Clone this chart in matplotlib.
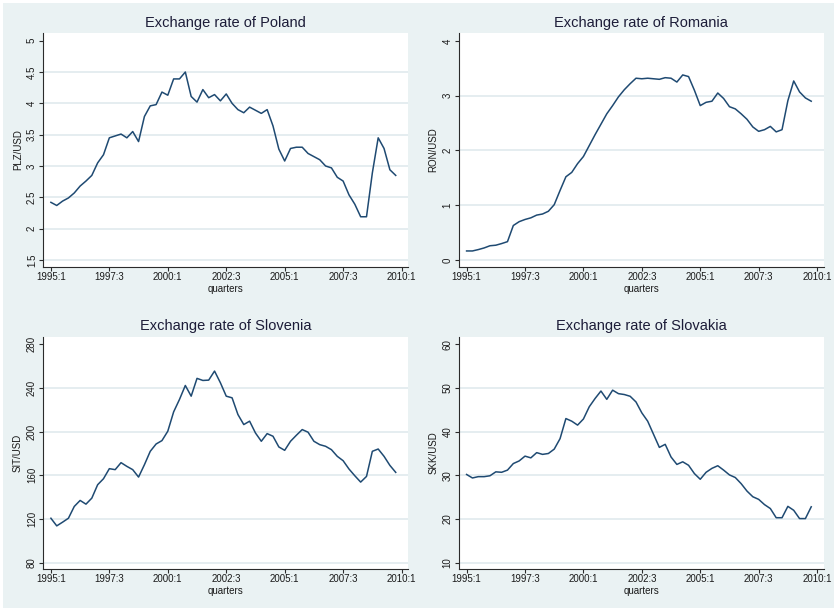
import matplotlib
matplotlib.use("Agg")
import matplotlib.pyplot as plt
from matplotlib.patches import Rectangle

plt.rcParams['font.family'] = ['Liberation Sans', 'DejaVu Sans']

# ---------------- data (quarterly, 1995:1 .. 2009:4) ----------------
quarter_index = list(range(60))
xtick_pos = [0, 10, 20, 30, 40, 50, 60]
xtick_labels = ["1995:1", "1997:3", "2000:1", "2002:3", "2005:1", "2007:3", "2010:1"]

poland = [2.42, 2.37, 2.44, 2.49, 2.57, 2.68, 2.76, 2.85, 3.05, 3.18,
          3.45, 3.48, 3.51, 3.45, 3.55, 3.39, 3.79, 3.96, 3.98, 4.18,
          4.13, 4.39, 4.39, 4.50, 4.11, 4.02, 4.22, 4.09, 4.14, 4.04,
          4.15, 4.00, 3.90, 3.85, 3.94, 3.89, 3.84, 3.90, 3.64, 3.27,
          3.08, 3.28, 3.30, 3.30, 3.20, 3.15, 3.10, 3.00, 2.97, 2.82,
          2.76, 2.54, 2.39, 2.19, 2.19, 2.89, 3.45, 3.28, 2.94, 2.85]

romania = [0.165, 0.165, 0.19, 0.22, 0.26, 0.27, 0.30, 0.335, 0.63, 0.70,
           0.74, 0.77, 0.82, 0.84, 0.89, 1.01, 1.27, 1.52, 1.60, 1.76,
           1.89, 2.09, 2.29, 2.48, 2.67, 2.82, 2.98, 3.11, 3.22, 3.32,
           3.31, 3.32, 3.31, 3.30, 3.33, 3.32, 3.25, 3.38, 3.35, 3.10,
           2.82, 2.88, 2.90, 3.05, 2.95, 2.80, 2.76, 2.67, 2.57, 2.43,
           2.35, 2.38, 2.44, 2.34, 2.38, 2.91, 3.27, 3.07, 2.96, 2.90]

slovenia = [120.7, 113.7, 117.1, 120.7, 131.5, 137.0, 133.6, 139.1, 151.4, 156.9,
            166.1, 165.2, 171.6, 168.2, 165.2, 158.4, 169.7, 182.0, 188.7, 191.8,
            200.4, 218.1, 229.5, 242.3, 232.5, 248.8, 246.9, 247.2, 255.5, 244.8,
            232.5, 231.0, 215.7, 206.5, 209.6, 198.8, 191.2, 198.2, 195.8, 186.0,
            182.9, 191.2, 196.7, 201.9, 199.5, 191.2, 188.1, 186.6, 183.5, 177.4,
            173.4, 165.8, 159.6, 153.8, 159.0, 182.0, 184.1, 177.4, 169.1, 162.7]

slovakia = [30.2, 29.4, 29.7, 29.7, 29.9, 30.8, 30.7, 31.2, 32.7, 33.3,
            34.4, 34.0, 35.2, 34.8, 35.0, 36.0, 38.4, 43.0, 42.4, 41.5,
            42.9, 45.7, 47.6, 49.3, 47.4, 49.5, 48.7, 48.5, 48.1, 46.8,
            44.3, 42.4, 39.4, 36.4, 37.1, 34.2, 32.5, 33.1, 32.3, 30.4,
            29.1, 30.7, 31.6, 32.2, 31.2, 30.1, 29.5, 28.1, 26.4, 25.1,
            24.5, 23.3, 22.4, 20.3, 20.3, 22.9, 22.0, 20.1, 20.1, 22.8]

titles = ["Exchange rate of Poland", "Exchange rate of Romania",
          "Exchange rate of Slovenia", "Exchange rate of Slovakia"]
ylabels = ["PLZ/USD", "RON/USD", "SIT/USD", "SKK/USD"]

poland_yticks = [1.5, 2, 2.5, 3, 3.5, 4, 4.5, 5]
poland_yticklabels = ["1.5", "2", "2.5", "3", "3.5", "4", "4.5", "5"]
romania_yticks = [0, 1, 2, 3, 4]
romania_yticklabels = ["0", "1", "2", "3", "4"]
slovenia_yticks = [80, 120, 160, 200, 240, 280]
slovenia_yticklabels = ["80", "120", "160", "200", "240", "280"]
slovakia_yticks = [10, 20, 30, 40, 50, 60]
slovakia_yticklabels = ["10", "20", "30", "40", "50", "60"]

# ---------------- styling ----------------
W, H = 834, 608
BG = "#EAF2F3"
GRID = "#E0EAED"
LINE = "#1F4A72"
AX = "#2b2b2b"
TXT = "#1a1a1a"

fig = plt.figure(figsize=(W / 100, H / 100), dpi=100, facecolor=BG)
# thin white frame at top/left as in the reference
fig.patches.append(Rectangle((0, 1 - 3 / H), 1, 3 / H, transform=fig.transFigure,
                             facecolor="white", edgecolor="none", zorder=0))
fig.patches.append(Rectangle((0, 0), 3 / W, 1, transform=fig.transFigure,
                             facecolor="white", edgecolor="none", zorder=0))


def rect(l, t, r, b):
    return [l / W, 1 - b / H, (r - l) / W, (b - t) / H]


panels = [
    (rect(43.3, 33, 408, 267), poland, poland_yticks, poland_yticklabels, (1.388, 5.123)),
    (rect(459, 33, 823.5, 267), romania, romania_yticks, romania_yticklabels, (-0.128, 4.146)),
    (rect(43.3, 337, 408, 569), slovenia, slovenia_yticks, slovenia_yticklabels, (74.2, 286.7)),
    (rect(459, 337, 823.5, 569), slovakia, slovakia_yticks, slovakia_yticklabels, (8.56, 61.67)),
]

for i, (pos, series, yt, ytl, ylim) in enumerate(panels):
    ax = fig.add_axes(pos)
    ax.set_facecolor("white")
    hpx = pos[3] * H
    wpx = pos[2] * W

    # gridlines at all ticks but the top one
    for v in yt[:-1]:
        ax.axhline(v, color=GRID, lw=1.2, zorder=1)

    ax.plot(quarter_index, series, color=LINE, lw=1.1, zorder=3)

    ax.set_xlim(-1.3, 61.1)
    ax.set_ylim(*ylim)
    ax.set_xticks(xtick_pos)
    ax.set_xticklabels(xtick_labels)
    ax.set_yticks(yt)
    ax.set_yticklabels(ytl, rotation=90, va="center")

    for s in ["top", "right"]:
        ax.spines[s].set_visible(False)
    for s in ["left", "bottom"]:
        ax.spines[s].set_color(AX)
        ax.spines[s].set_linewidth(0.8)

    ax.tick_params(axis="x", length=3, width=0.8, color=AX, pad=0.8,
                   labelsize=7, labelcolor=TXT)
    ax.tick_params(axis="y", length=3, width=0.8, color=AX, pad=1.6,
                   labelsize=7, labelcolor=TXT)

    ax.set_ylabel(ylabels[i], fontsize=7, color=TXT)
    ax.yaxis.set_label_coords(-(43.3 - 18) / wpx, 0.5)
    ax.yaxis.label.set_va("center")

    ax.set_xlabel("quarters", fontsize=7, color=TXT)
    ax.xaxis.set_label_coords(0.5, -22.0 / hpx)
    ax.xaxis.label.set_va("center")

    ax.text(0.5, 1 + 10.5 / hpx, titles[i], transform=ax.transAxes,
            ha="center", va="center", fontsize=10.5, color="#1c1c38")

fig.savefig("out.png", dpi=100, facecolor=BG)
